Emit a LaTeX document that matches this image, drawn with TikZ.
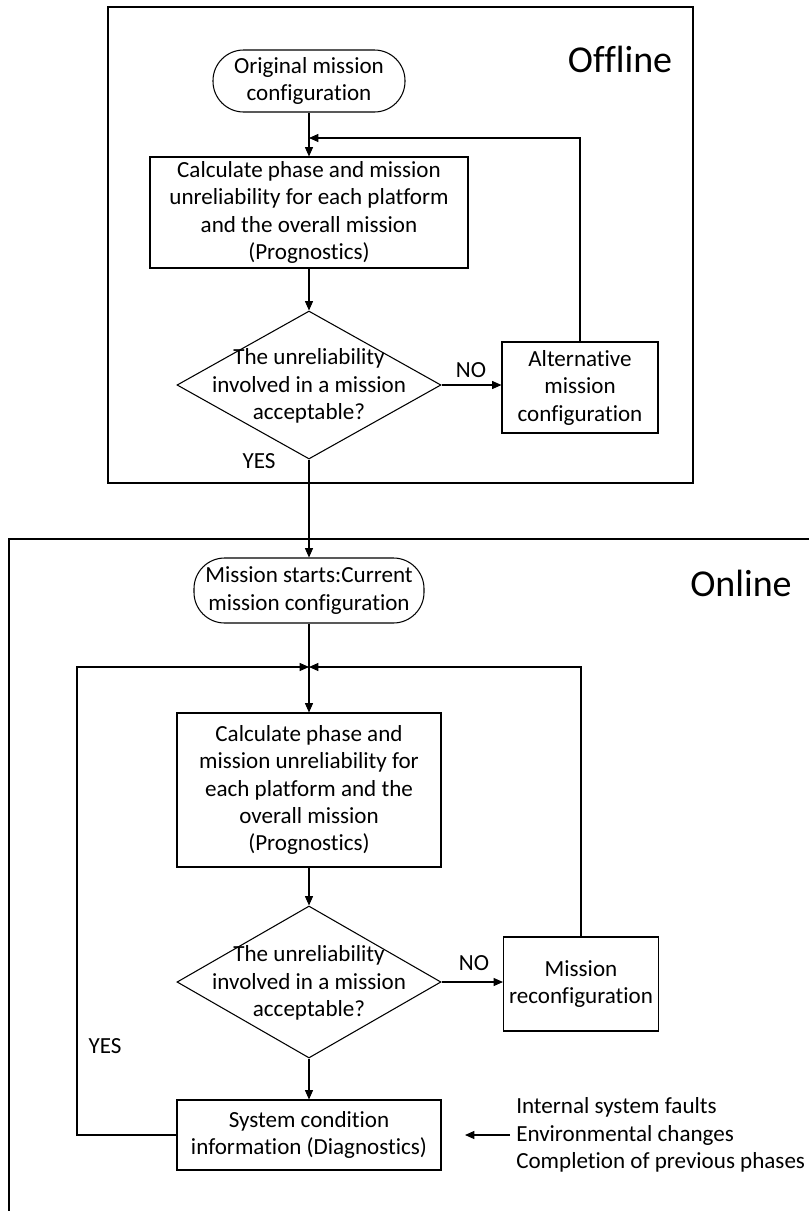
\documentclass[tikz,border=0pt]{standalone}
\usepackage{fontspec}
\setmainfont{Carlito}[Ligatures={NoCommon}]
\usetikzlibrary{arrows.meta,shapes.geometric}

\begin{document}
\begin{tikzpicture}[x=0.75pt,y=-0.75pt,
  txt/.style={font=\fontsize{17.3}{20.6}\selectfont, align=center, inner sep=0pt},
  big/.style={font=\fontsize{28.5}{34}\selectfont, inner sep=0pt},
  frame/.style={draw, line width=0.8pt},
  terminal/.style={draw, txt, line width=0.8pt, rounded corners=23pt},
  proc/.style={draw, txt, line width=0.8pt},
  decision/.style={draw, diamond, line width=0.8pt, inner sep=0pt},
  flow/.style={line width=0.8pt, -{Triangle[length=7pt,width=6pt]}},
  plain/.style={line width=0.8pt}
]
\useasboundingbox (0,0) rectangle (809,1211);
\fill[white] (0,0) rectangle (809,1211);

% ---------- offline stage ----------
\node[frame, minimum width=438.75pt, minimum height=357pt] (offline) at (400.5,245) {};
\node[big, anchor=base] (offtitle) at (620,72) {Offline};

\node[terminal, minimum width=144pt, minimum height=46.5pt] (orig) at (309,81)
  {Original mission\\configuration};
\node[proc, minimum width=238.5pt, minimum height=83.25pt] (calcA) at (309,212.5)
  {Calculate phase and mission\\unreliability for each platform\\and the overall mission\\(Prognostics)};
\node[decision, minimum width=198pt, minimum height=111pt] (decA) at (309,385) {};
\node[txt] (decAtext) at (309,386)
  {The unreliability\\involved in a mission\\acceptable?};
\node[proc, minimum width=117pt, minimum height=68.25pt] (alt) at (580,387.5)
  {Alternative\\mission\\configuration};
\node[txt] (noA) at (471,370) {NO};
\node[txt] (yesA) at (259,461) {YES};

\coordinate (joinA) at (309,138);
\draw[flow] (orig.south) -- (calcA.north);
\draw[flow] (alt.north) |- (joinA);
\draw[flow] (calcA.south) -- (decA.north);
\draw[flow] (decA.east) -- (decA.east -| alt.west);

% ---------- online stage ----------
\coordinate (onTL) at (9,539);
\coordinate (onTR) at (809,539);
\coordinate (onBL) at (9,1211);
\draw[frame] (onBL) -- (onTL) -- (onTR);
\node[big, anchor=base] (ontitle) at (741,596) {Online};

\node[terminal, minimum width=172.5pt, minimum height=48.75pt] (start) at (309,590.5)
  {Mission starts:Current\\mission configuration};
\node[proc, minimum width=198pt, minimum height=115.5pt] (calcB) at (309,790)
  {Calculate phase and\\mission unreliability for\\each platform and the\\overall mission\\(Prognostics)};
\node[decision, minimum width=198pt, minimum height=114pt] (decB) at (309,982) {};
\node[txt] (decBtext) at (309,983)
  {The unreliability\\involved in a mission\\acceptable?};
\node[proc, minimum width=116.25pt, minimum height=70.5pt] (reconf) at (581,984)
  {Mission\\reconfiguration};
\node[proc, minimum width=198pt, minimum height=52.5pt] (diag) at (309,1135)
  {System condition\\information (Diagnostics)};
\node[txt] (noB) at (474,963) {NO};
\node[txt] (yesB) at (105,1046) {YES};
\node[txt, align=left, anchor=west, inner xsep=4.5pt] (events) at (510,1135)
  {Internal system faults\\Environmental changes\\Completion of previous phases};

\draw[flow] (decA.south) -- (start.north);

\coordinate (joinB) at (309,667);
\coordinate (loopL) at (77,1135);
\coordinate (eventTip) at (465,1135);
\draw[flow] (start.south) -- (calcB.north);
\draw[flow] (reconf.north) |- (joinB);
\draw[flow] (diag.west) -- (loopL) |- (joinB);
\draw[flow] (calcB.south) -- (decB.north);
\draw[flow] (decB.east) -- (decB.east -| reconf.west);
\draw[flow] (decB.south) -- (diag.north);
\draw[flow] (events.west) -- (eventTip);
\end{tikzpicture}
\end{document}
